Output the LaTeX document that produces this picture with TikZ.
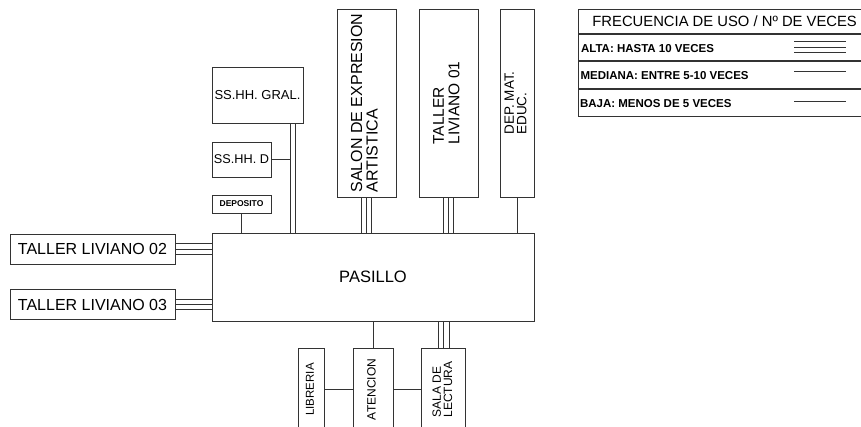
\documentclass[tikz,border=0pt]{standalone}
\usepackage{fontspec}
\setmainfont{Liberation Sans}
\usepackage{tikz}
\usetikzlibrary{positioning}
\pgfdeclarelayer{background}
\pgfsetlayers{background,main}
\newcommand{\vtexto}[1]{\rotatebox{90}{\begin{tabular}{@{}l@{}}#1\end{tabular}}}

\begin{document}
\begin{tikzpicture}[x=1pt, y=-1pt,
  ambiente/.style={draw=black!80, line width=0.9pt, inner sep=0pt},
  leyenda/.style={inner sep=0pt, font=\bfseries\fontsize{11.5}{12}\selectfont},
  baja/.style={draw=black!80, line width=0.9pt},
  media/.style={baja, double=white, double distance=4.8pt},
  alta/.style={baja, double=white, double distance=9.6pt}]
\useasboundingbox (0,0) rectangle (861,427);
% ambientes superiores
\node[ambiente, minimum width=91pt, minimum height=56pt, font=\fontsize{13}{13}\selectfont] (gral) at (257.5,95) {SS.HH. GRAL.};
\node[ambiente, minimum width=59pt, minimum height=35pt, font=\fontsize{12.7}{13}\selectfont] (sshhd) at (241.5,159.5) {SS.HH. D};
\node[ambiente, minimum width=59pt, minimum height=18pt, font=\bfseries\fontsize{8.5}{9}\selectfont] (deposito) at (241.5,204) {DEPOSITO};
\node[ambiente, minimum width=59pt, minimum height=188pt, font=\fontsize{16}{15}\selectfont] (salon) at (366.5,103) {\vtexto{SALON DE EXPRESION\\ARTISTICA}};
\node[ambiente, minimum width=59pt, minimum height=188pt, font=\fontsize{15.5}{15}\selectfont] (taller1) at (448.5,103) {\vtexto{TALLER\\LIVIANO 01}};
\node[ambiente, minimum width=34pt, minimum height=188pt, font=\fontsize{13.5}{10.5}\selectfont] (depmat) at (517,103) {\vtexto{DEP. MAT.\\EDUC.}};
% pasillo y talleres
\node[ambiente, minimum width=322pt, minimum height=88pt, font=\fontsize{16.5}{17}\selectfont] (pasillo) at (373,277) {PASILLO};
\node[ambiente, minimum width=165pt, minimum height=30pt, font=\fontsize{16}{16}\selectfont] (taller2) at (92.5,249) {TALLER LIVIANO 02};
\node[ambiente, minimum width=165pt, minimum height=30pt, font=\fontsize{16}{16}\selectfont] (taller3) at (92.5,304.5) {TALLER LIVIANO 03};
% ambientes inferiores
\node[ambiente, minimum width=26pt, minimum height=82pt, font=\fontsize{11.5}{11}\selectfont] (libreria) at (311.5,389.5) {\vtexto{LIBRERIA}};
\node[ambiente, minimum width=40pt, minimum height=82pt, font=\fontsize{12}{11}\selectfont] (atencion) at (373.2,389.5) {\vtexto{ATENCION}};
\node[ambiente, minimum width=44pt, minimum height=82pt, font=\fontsize{12}{9.5}\selectfont] (sala) at (443.8,389.5) {\vtexto{SALA DE\\LECTURA}};
% leyenda
\node[ambiente, minimum width=292.7pt, minimum height=24pt, font=\fontsize{14.8}{15}\selectfont] (titulo) at (724.65,21.3) {FRECUENCIA DE USO / Nº DE VECES};
\node[ambiente, minimum width=292.7pt, minimum height=26.7pt, below=0pt of titulo] (filaalta) {};
\node[ambiente, minimum width=292.7pt, minimum height=26.7pt, below=0pt of filaalta] (filamedia) {};
\node[ambiente, minimum width=292.7pt, minimum height=26.7pt, below=0pt of filamedia] (filabaja) {};
\node[leyenda, anchor=west] (txtalta) at ([xshift=3pt, yshift=-0.5pt]filaalta.west) {ALTA: HASTA 10 VECES};
\node[leyenda, anchor=west] (txtmedia) at ([xshift=2.5pt, yshift=-0.5pt]filamedia.west) {MEDIANA: ENTRE 5-10 VECES};
\node[leyenda, anchor=west] (txtbaja) at ([xshift=2pt, yshift=-1pt]filabaja.west) {BAJA: MENOS DE 5 VECES};
\coordinate (bajadagral) at ([xshift=35.4pt]gral.south);
\coordinate (alta1) at ([xshift=69.5pt, yshift=0.4pt]filaalta.center);
\coordinate (alta2) at ([xshift=121.5pt, yshift=0.4pt]filaalta.center);
\coordinate (media1) at ([xshift=69.5pt, yshift=1pt]filamedia.center);
\coordinate (media2) at ([xshift=121.5pt, yshift=1pt]filamedia.center);
\coordinate (baja1) at ([xshift=69.5pt, yshift=1pt]filabaja.center);
\coordinate (baja2) at ([xshift=121.5pt, yshift=1pt]filabaja.center);
\begin{pgfonlayer}{background}
% conexiones
\draw[baja] (deposito.south) -- (deposito.south |- pasillo.north);
\draw[baja] (sshhd.east) -- (sshhd.east -| bajadagral);
\draw[media] (bajadagral) -- (bajadagral |- pasillo.north);
\draw[alta] (salon.south) -- (salon.south |- pasillo.north);
\draw[baja] (salon.south) -- (salon.south |- pasillo.north);
\draw[alta] (taller1.south) -- (taller1.south |- pasillo.north);
\draw[baja] (taller1.south) -- (taller1.south |- pasillo.north);
\draw[baja] (depmat.south) -- (depmat.south |- pasillo.north);
\draw[alta] (taller2.east) -- (taller2.east -| pasillo.west);
\draw[baja] (taller2.east) -- (taller2.east -| pasillo.west);
\draw[alta] (taller3.east) -- (taller3.east -| pasillo.west);
\draw[baja] (taller3.east) -- (taller3.east -| pasillo.west);
\draw[baja] (atencion.north) -- (atencion.north |- pasillo.south);
\draw[alta] (sala.north) -- (sala.north |- pasillo.south);
\draw[baja] (sala.north) -- (sala.north |- pasillo.south);
\draw[baja] (libreria.east) -- (atencion.west);
\draw[baja] (atencion.east) -- (sala.west);
\end{pgfonlayer}
% simbolos de la leyenda
\draw[alta] (alta1) -- (alta2);
\draw[baja] (alta1) -- (alta2);
\draw[media] (media1) -- (media2);
\draw[baja] (baja1) -- (baja2);
\end{tikzpicture}
\end{document}
